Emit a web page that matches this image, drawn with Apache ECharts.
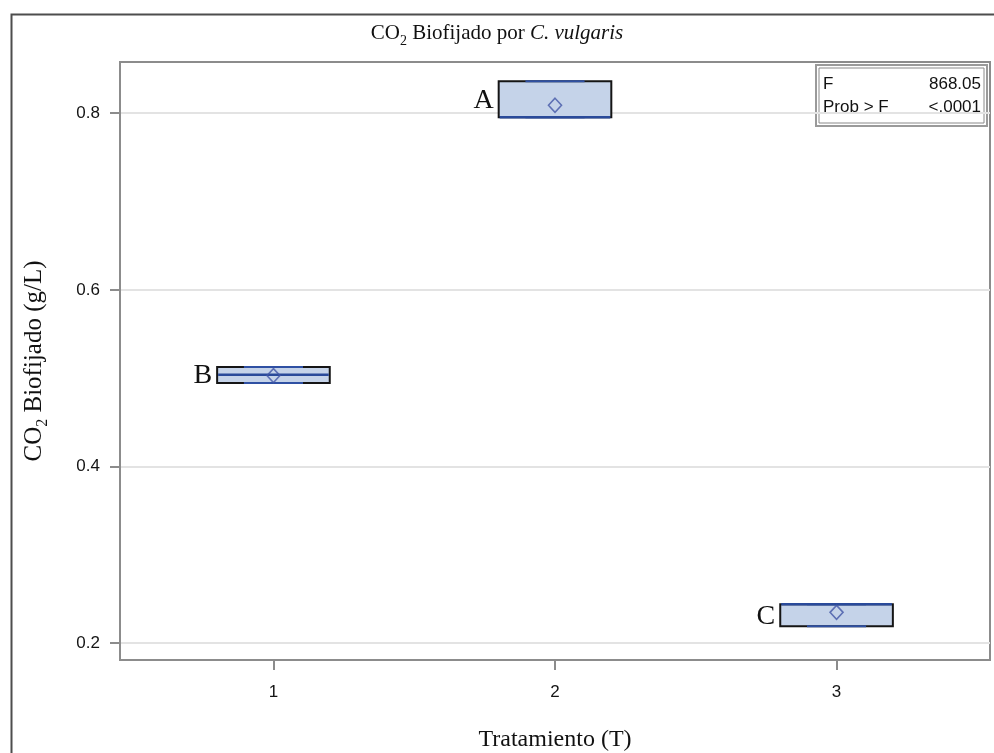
<!DOCTYPE html>
<html>
<head>
<meta charset="utf-8">
<script src="https://cdn.jsdelivr.net/npm/echarts@6/dist/echarts.min.js"></script>
<style>
  html, body { margin: 0; padding: 0; background: #fff; }
  #chart { width: 994px; height: 753px; }
</style>
</head>
<body>
<div id="chart"></div>
<script>
// Treatment groups and their box statistics (g/L)
const treatments = [1, 2, 3];
const groupLetters = ['B', 'A', 'C'];
const q1Values = [0.4947, 0.7955, 0.2192];
const medianValues = [0.5038, 0.7955, 0.2442];
const q3Values = [0.5128, 0.8362, 0.2442];
const minValues = [0.4947, 0.7955, 0.2192];
const maxValues = [0.5128, 0.8362, 0.2442];
const meanValues = [0.503, 0.809, 0.235];

// Axis ticks
const yTicks = [0.2, 0.4, 0.6, 0.8];
const xTicks = [1, 2, 3];

// ANOVA summary shown in the inset
const statLabels = ['F', 'Prob > F'];
const statValues = ['868.05', '<.0001'];

const boxData = treatments.map((t, i) => [t, q1Values[i], medianValues[i], q3Values[i], minValues[i], maxValues[i], i]);
const meanData = treatments.map((t, i) => [t, meanValues[i]]);

const BOX_HALF = 0.2;
const CAP_HALF = 0.105;
const serif = '"Liberation Serif", "Times New Roman", serif';
const sans = '"Liberation Sans", Arial, sans-serif';

function renderBox(params, api) {
  const x = api.value(0);
  const q1 = api.value(1), med = api.value(2), q3 = api.value(3);
  const lo = api.value(4), hi = api.value(5);
  const idx = api.value(6);
  const pTL = api.coord([x - BOX_HALF, q3]);
  const pBR = api.coord([x + BOX_HALF, q1]);
  const pMedL = api.coord([x - BOX_HALF, med]);
  const pMedR = api.coord([x + BOX_HALF, med]);
  const capTopL = api.coord([x - CAP_HALF, hi]);
  const capTopR = api.coord([x + CAP_HALF, hi]);
  const capBotL = api.coord([x - CAP_HALF, lo]);
  const capBotR = api.coord([x + CAP_HALF, lo]);
  const cTop = api.coord([x, hi]);
  const cQ3 = api.coord([x, q3]);
  const cBot = api.coord([x, lo]);
  const cQ1 = api.coord([x, q1]);
  const blue = '#2a4a9a';
  return {
    type: 'group',
    children: [
      {
        type: 'rect',
        shape: { x: pTL[0], y: pTL[1], width: pBR[0] - pTL[0], height: pBR[1] - pTL[1] },
        style: { fill: '#c5d3e9', stroke: '#151515', lineWidth: 2 }
      },
      { type: 'line', shape: { x1: cTop[0], y1: cTop[1], x2: cQ3[0], y2: cQ3[1] }, style: { stroke: blue, lineWidth: 2 } },
      { type: 'line', shape: { x1: cBot[0], y1: cBot[1], x2: cQ1[0], y2: cQ1[1] }, style: { stroke: blue, lineWidth: 2 } },
      { type: 'line', shape: { x1: capTopL[0], y1: capTopL[1], x2: capTopR[0], y2: capTopR[1] }, style: { stroke: '#2f50a3', lineWidth: 2 } },
      { type: 'line', shape: { x1: capBotL[0], y1: capBotL[1], x2: capBotR[0], y2: capBotR[1] }, style: { stroke: '#2f50a3', lineWidth: 2 } },
      { type: 'line', shape: { x1: pMedL[0] + 1, y1: pMedL[1], x2: pMedR[0] - 1, y2: pMedR[1] }, style: { stroke: blue, lineWidth: 2.5 } },
      {
        type: 'text',
        style: {
          x: pTL[0] - 5,
          y: (pTL[1] + pBR[1]) / 2 + 1,
          text: groupLetters[idx],
          align: 'right',
          verticalAlign: 'middle',
          font: '28px ' + serif,
          fill: '#111'
        }
      }
    ]
  };
}

function richSet(size) {
  return {
    n: { fontFamily: serif, fontSize: size, fontWeight: 'normal', color: '#111', lineHeight: size + 5, verticalAlign: 'bottom' },
    s: { fontFamily: serif, fontSize: Math.round(size * 0.65), fontWeight: 'normal', color: '#111', lineHeight: size + 5, verticalAlign: 'bottom', padding: [0, 0, -4, 0] },
    i: { fontFamily: serif, fontSize: size, fontWeight: 'normal', fontStyle: 'italic', color: '#111', lineHeight: size + 5, verticalAlign: 'bottom' }
  };
}

const chart = echarts.init(document.getElementById('chart'));
chart.setOption({
  animation: false,
  backgroundColor: '#ffffff',
  title: {
    text: '{n|CO}{s|2}{n| Biofijado por }{i|C. vulgaris}',
    left: 'center',
    top: 13,
    textStyle: { fontWeight: 'normal', rich: richSet(21) }
  },
  grid: {
    left: 120, top: 62, right: 4, bottom: 93,
    outerBoundsMode: 'none',
    containLabel: false,
    show: true, borderColor: '#8c8c8c', borderWidth: 2, backgroundColor: '#fff'
  },
  xAxis: {
    type: 'value',
    min: 0.455,
    max: 3.545,
    name: 'Tratamiento (T)',
    nameLocation: 'middle',
    nameGap: 68,
    nameTextStyle: { fontFamily: serif, fontSize: 24, color: '#111' },
    axisLine: { show: true, lineStyle: { color: '#8c8c8c', width: 2 } },
    axisTick: { show: true, length: 10, customValues: xTicks, lineStyle: { color: '#8c8c8c', width: 2 } },
    axisLabel: { customValues: xTicks, margin: 24, fontFamily: sans, fontSize: 17, color: '#141414', formatter: v => String(v) },
    splitLine: { show: false }
  },
  yAxis: {
    type: 'value',
    min: 0.181,
    max: 0.858,
    name: '{n|CO}{s|2}{n| Biofijado (g/L)}',
    nameLocation: 'middle',
    nameGap: 73,
    nameRotate: 90,
    nameTextStyle: { fontWeight: 'normal', rich: richSet(25) },
    axisLine: { show: true, lineStyle: { color: '#8c8c8c', width: 2 } },
    axisTick: { show: true, length: 10, customValues: yTicks, lineStyle: { color: '#8c8c8c', width: 2 } },
    axisLabel: { customValues: yTicks, margin: 20, fontFamily: sans, fontSize: 17, color: '#141414', formatter: v => v.toFixed(1) },
    splitLine: { show: true, lineStyle: { color: '#e3e3e3', width: 2 } }
  },
  series: [
    {
      type: 'custom',
      renderItem: renderBox,
      data: boxData,
      encode: { x: 0, y: [1, 2, 3, 4, 5] },
      z: 3
    },
    {
      type: 'scatter',
      data: meanData,
      symbol: 'diamond',
      symbolSize: [13, 14],
      itemStyle: { color: 'rgba(0,0,0,0)', borderColor: '#4256a6', borderWidth: 1.6 },
      z: 4
    }
  ],
  graphic: [
    {
      type: 'rect',
      left: 9, top: 12,
      shape: { width: 1000, height: 800 },
      style: { fill: 'none', stroke: '#4d4d4d', lineWidth: 2 },
      silent: true
    },
    {
      type: 'group',
      left: 815, top: 64,
      children: [
        { type: 'rect', shape: { x: 0, y: 0, width: 171, height: 61 }, style: { fill: '#fff', stroke: '#9a9a9a', lineWidth: 2 } },
        { type: 'rect', shape: { x: 3, y: 3, width: 165, height: 55 }, style: { fill: 'none', stroke: '#8a8a8a', lineWidth: 1 } },
        { type: 'text', style: { x: 7, y: 19, text: statLabels[0], font: '17px ' + sans, fill: '#111', verticalAlign: 'middle' } },
        { type: 'text', style: { x: 165, y: 19, text: statValues[0], font: '17px ' + sans, fill: '#111', align: 'right', verticalAlign: 'middle' } },
        { type: 'text', style: { x: 7, y: 42, text: statLabels[1], font: '17px ' + sans, fill: '#111', verticalAlign: 'middle' } },
        { type: 'text', style: { x: 165, y: 42, text: statValues[1], font: '17px ' + sans, fill: '#111', align: 'right', verticalAlign: 'middle' } }
      ]
    }
  ]
});
</script>
</body>
</html>
